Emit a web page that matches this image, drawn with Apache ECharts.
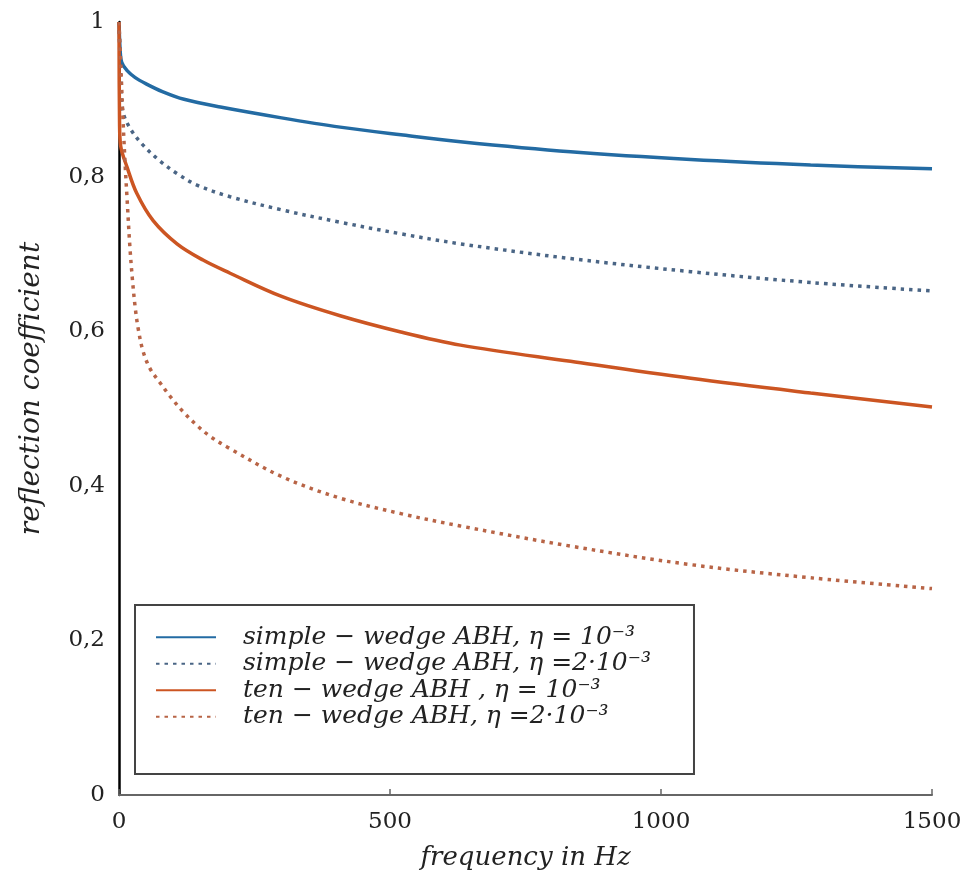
<!DOCTYPE html>
<html>
<head>
<meta charset="utf-8">
<script src="https://cdn.jsdelivr.net/npm/echarts@6/dist/echarts.min.js"></script>
<style>
  html, body { margin: 0; padding: 0; background: #fff; }
  #chart { width: 976px; height: 870px; }
</style>
</head>
<body>
<div id="chart"></div>
<script>
// names shown in the legend
var seriesNames = [
  'simple \u2212 wedge ABH, \u03B7 = 10\u207B\u00B3',
  'simple \u2212 wedge ABH, \u03B7 =2\u00B710\u207B\u00B3',
  'ten \u2212 wedge ABH , \u03B7 = 10\u207B\u00B3',
  'ten \u2212 wedge ABH, \u03B7 =2\u00B710\u207B\u00B3'
]

// simple wedge, eta = 1e-3
var simpleFreq1 = [0, 2, 5, 15, 30, 50, 80, 120, 187, 300, 408, 520, 630, 833, 1055, 1276, 1500]
var simpleVal1 = [1.0, 0.965, 0.948, 0.937, 0.928, 0.92, 0.91, 0.90, 0.89, 0.876, 0.864, 0.854, 0.845, 0.832, 0.822, 0.815, 0.81]

// simple wedge, eta = 2e-3
var simpleFreq2 = [0, 3, 7, 20, 44, 76, 107, 144, 205, 300, 408, 520, 630, 833, 1055, 1276, 1500]
var simpleVal2 = [1.0, 0.93, 0.885, 0.863, 0.841, 0.82, 0.804, 0.789, 0.774, 0.757, 0.741, 0.726, 0.713, 0.694, 0.677, 0.663, 0.652]

// ten wedge, eta = 1e-3
var tenFreq1 = [0, 1, 3, 15, 33, 63, 107, 155, 205, 300, 408, 520, 630, 833, 1055, 1276, 1500]
var tenVal1 = [1.0, 0.87, 0.84, 0.812, 0.778, 0.743, 0.713, 0.692, 0.675, 0.645, 0.62, 0.599, 0.582, 0.561, 0.539, 0.52, 0.502]

// ten wedge, eta = 2e-3
var tenFreq2 = [0, 3, 7, 11, 15, 20, 25, 30, 35, 44, 57, 76, 94, 118, 144, 168, 200, 300, 408, 520, 630, 833, 1055, 1276, 1500]
var tenVal2 = [1.0, 0.95, 0.88, 0.82, 0.77, 0.71, 0.665, 0.63, 0.605, 0.575, 0.552, 0.533, 0.516, 0.496, 0.478, 0.464, 0.45, 0.412, 0.384, 0.364, 0.348, 0.322, 0.298, 0.281, 0.267]

// axis ticks
var xTicks = [0, 500, 1000, 1500]
var yTicks = [0, 0.2, 0.4, 0.6, 0.8, 1]

function pairs(xs, ys) {
  return xs.map(function (x, i) { return [x, ys[i]] })
}

var serif = 'DejaVu Serif'
var chart = echarts.init(document.getElementById('chart'))

function lineSeries(idx, xs, ys, color, dotted) {
  return {
    name: seriesNames[idx],
    type: 'line',
    data: pairs(xs, ys),
    symbol: 'none',
    smooth: 0.35,
    lineStyle: dotted
      ? { color: color, width: 3.5, type: [3.5, 5], cap: 'butt' }
      : { color: color, width: 3.5 },
    itemStyle: { color: color }
  }
}

chart.setOption({
  backgroundColor: '#fff',
  animation: false,
  grid: { left: 119, right: 44, top: 22, bottom: 75, outerBoundsMode: 'none' },
  legend: {
    orient: 'vertical',
    left: 135,
    top: 605,
    padding: [19, 43, 44, 20],
    itemGap: 0,
    itemWidth: 60,
    itemHeight: 14,
    borderColor: '#444',
    borderWidth: 2,
    backgroundColor: '#fff',
    itemStyle: { opacity: 0 },
    textStyle: {
      fontFamily: serif,
      fontStyle: 'italic',
      fontSize: 25,
      color: '#222',
      lineHeight: 26.5,
      padding: [0, 0, 0, 22]
    },
    data: seriesNames
  },
  xAxis: {
    type: 'value',
    min: 0,
    max: 1500,
    interval: 500,
    name: 'frequency in Hz',
    nameLocation: 'middle',
    nameGap: 50,
    nameTextStyle: { fontFamily: serif, fontStyle: 'italic', fontSize: 26, color: '#222' },
    splitLine: { show: false },
    axisLine: { lineStyle: { color: '#666', width: 2 } },
    axisTick: { inside: true, length: 6, lineStyle: { color: '#666', width: 1.5 } },
    axisLabel: {
      margin: 16,
      fontFamily: serif,
      fontSize: 23,
      color: '#222',
      formatter: function (v) { return String(v) }
    }
  },
  yAxis: {
    type: 'value',
    min: 0,
    max: 1,
    interval: 0.2,
    name: 'reflection coefficient',
    nameLocation: 'middle',
    nameGap: 73,
    nameTextStyle: { fontFamily: serif, fontStyle: 'italic', fontSize: 28, color: '#222', padding: [0, 0, 0, 40] },
    splitLine: { show: false },
    axisLine: { show: true, lineStyle: { color: '#000', width: 2.5 } },
    axisTick: { show: false },
    axisLabel: {
      margin: 14,
      fontFamily: serif,
      fontSize: 23,
      color: '#222',
      formatter: function (v) {
        var hit = yTicks.filter(function (t) { return Math.abs(t - v) < 1e-9 })
        return hit.length ? String(+v.toFixed(1)).replace('.', ',') : ''
      }
    }
  },
  series: [
    lineSeries(0, simpleFreq1, simpleVal1, '#236ba3', false),
    lineSeries(1, simpleFreq2, simpleVal2, '#4a6585', true),
    lineSeries(2, tenFreq1, tenVal1, '#cc5522', false),
    lineSeries(3, tenFreq2, tenVal2, '#b86446', true)
  ]
})
</script>
</body>
</html>
